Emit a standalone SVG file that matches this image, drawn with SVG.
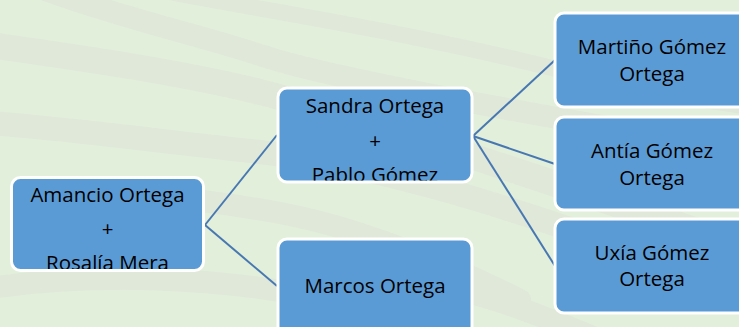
<svg xmlns="http://www.w3.org/2000/svg" width="739" height="327" viewBox="0 0 739 327">
<style>
.band{fill:none;stroke:#e0e8d9;stroke-linecap:round}
.box{fill:#5b9bd5;stroke:#ffffff;stroke-width:3}
.t{font-family:"Open Sans","Noto Sans","Liberation Sans",sans-serif;font-size:20.5px;fill:#000000;text-anchor:middle}
.c{fill:none;stroke:#4878b2;stroke-width:2}
</style>
<defs>
<clipPath id="cl1"><rect x="13" y="179" width="189" height="90"/></clipPath>
<clipPath id="cl2"><rect x="279.5" y="89.5" width="191" height="91"/></clipPath>
</defs>
<rect width="739" height="327" fill="#e2efda"/>
<g id="background">
<path class="band" stroke-width="22" d="M 40,-12 C 120,18 200,35 260,55 S 450,100 739,150"/>
<path class="band" stroke-width="16" d="M 170,-8 C 260,10 400,30 560,70 S 700,95 760,110"/>
<path class="band" stroke-width="26" d="M -10,45 C 80,58 180,72 260,92 S 500,165 739,245"/>
<path class="band" stroke-width="24" d="M -10,123 C 60,128 150,140 260,152 S 500,200 739,290"/>
<path class="band" stroke-width="22" d="M 150,195 C 200,200 240,205 290,215 S 420,250 520,300"/>
<path class="band" stroke-width="22" d="M -10,288 C 100,272 220,278 320,298"/>
<path class="band" stroke-width="22" d="M 460,290 C 500,300 540,315 600,340"/>
</g>
<g id="connectors">
<path class="c" d="M 205,225 L 277,135"/>
<path class="c" d="M 205,225 L 277,286"/>
<path class="c" d="M 473,136 L 555,60"/>
<path class="c" d="M 473,136 L 555,164"/>
<path class="c" d="M 473,136 L 555,266"/>
</g>
<g id="n1">
<rect class="box" x="11.5" y="177.5" width="192" height="93" rx="9"/>
<g clip-path="url(#cl1)">
<text class="t" x="107.5" y="201.5">Amancio Ortega</text>
<text class="t" x="107.5" y="236">+</text>
<text class="t" x="107.5" y="270">Rosalía Mera</text>
</g>
</g>
<g id="n2">
<rect class="box" x="278" y="88" width="194" height="94" rx="9"/>
<g clip-path="url(#cl2)">
<text class="t" x="375" y="113">Sandra Ortega</text>
<text class="t" x="375" y="147.5">+</text>
<text class="t" x="375" y="182">Pablo Gómez</text>
</g>
</g>
<g id="n3">
<rect class="box" x="278" y="239" width="194" height="96" rx="9"/>
<text class="t" x="375" y="293">Marcos Ortega</text>
</g>
<g id="n4">
<rect class="box" x="555" y="13" width="194" height="94" rx="9"/>
<text class="t" x="652" y="54">Martiño Gómez</text>
<text class="t" x="652" y="80.5">Ortega</text>
</g>
<g id="n5">
<rect class="box" x="555" y="117" width="194" height="93" rx="9"/>
<text class="t" x="652" y="158">Antía Gómez</text>
<text class="t" x="652" y="184.5">Ortega</text>
</g>
<g id="n6">
<rect class="box" x="555" y="219" width="194" height="94" rx="9"/>
<text class="t" x="652" y="260">Uxía Gómez</text>
<text class="t" x="652" y="286">Ortega</text>
</g>
</svg>
